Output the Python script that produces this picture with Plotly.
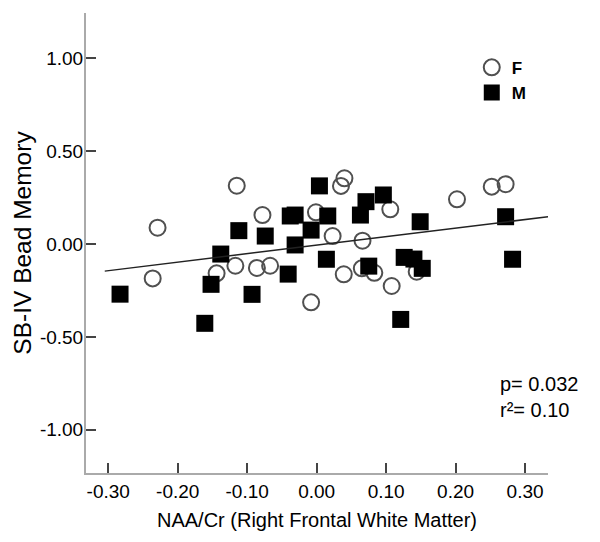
"""
SB-IV Bead Memory vs NAA/Cr (Right Frontal White Matter)
"""
import plotly.graph_objects as go

# Female (open circles)
f_x = [-0.229, -0.236, -0.115, -0.117, -0.144, -0.086, -0.078, -0.067,
       -0.008, -0.001, 0.023, 0.035, 0.040, 0.039, 0.066, 0.065,
       0.083, 0.106, 0.108, 0.144, 0.202, 0.252, 0.272]
f_y = [0.088, -0.185, 0.314, -0.117, -0.158, -0.129, 0.156, -0.117,
       -0.314, 0.171, 0.043, 0.313, 0.354, -0.163, 0.018, -0.131,
       -0.155, 0.187, -0.226, -0.149, 0.241, 0.309, 0.322]

# Male (filled squares)
m_x = [-0.283, -0.161, -0.152, -0.138, -0.112, -0.093, -0.074, -0.041,
       -0.038, -0.031, -0.031, -0.008, 0.004, 0.016, 0.014, 0.063,
       0.071, 0.075, 0.096, 0.121, 0.126, 0.140, 0.149, 0.152,
       0.272, 0.282]
m_y = [-0.270, -0.427, -0.217, -0.054, 0.072, -0.271, 0.043, -0.162,
       0.151, 0.156, -0.005, 0.075, 0.313, 0.151, -0.082, 0.156,
       0.228, -0.119, 0.264, -0.406, -0.072, -0.081, 0.120, -0.131,
       0.147, -0.082]

# fit line
fit_x = [-0.305, 0.333]
fit_y = [-0.146, 0.147]

x_ticks = [-0.30, -0.20, -0.10, 0.00, 0.10, 0.20, 0.30]
x_labels = ["-0.30", "-0.20", "-0.10", "0.00", "0.10", "0.20", "0.30"]
y_ticks = [-1.00, -0.50, 0.00, 0.50, 1.00]
y_labels = ["-1.00", "-0.50", "0.00", "0.50", "1.00"]

FONT = "Liberation Sans, Arial, sans-serif"
INK = "#000000"

fig = go.Figure()

fig.add_trace(go.Scatter(
    x=f_x, y=f_y, mode="markers", name="<b>F</b>",
    marker=dict(symbol="circle-open", size=16, color="#505050",
                line=dict(width=2, color="#505050"))
))

fig.add_trace(go.Scatter(
    x=m_x, y=m_y, mode="markers", name="<b>M</b>",
    marker=dict(symbol="square", size=17, color="black",
                line=dict(width=0))
))

fig.add_trace(go.Scatter(
    x=fit_x, y=fit_y, mode="lines", showlegend=False,
    line=dict(color="#222222", width=1.5)
))

fig.add_annotation(
    x=0.892, y=0.165, xref="paper", yref="paper",
    text="p= 0.032<br>r²= 0.10", showarrow=False,
    xanchor="left", yanchor="middle", align="left",
    font=dict(size=20, color=INK, family=FONT)
)

axis_common = dict(
    showline=True, linecolor="#aaaaaa", linewidth=2,
    ticks="inside", ticklen=10, tickwidth=2, tickcolor="#444444",
    showgrid=False, zeroline=False, automargin=False,
    tickfont=dict(size=19, color=INK, family=FONT),
)

# the page body adds an 8px offset, so margins are pulled in by that
fig.update_layout(
    width=600, height=542,
    margin=dict(l=78, r=60, t=5, b=77),
    plot_bgcolor="white", paper_bgcolor="white",
    showlegend=True,
    legend=dict(
        x=0.835, y=0.92, xanchor="left", yanchor="top",
        font=dict(size=17, color=INK, family=FONT),
        bgcolor="rgba(0,0,0,0)", itemsizing="trace",
    ),
    xaxis=dict(
        range=[-0.332, 0.333], tickvals=x_ticks, ticktext=x_labels,
        title=dict(text="NAA/Cr (Right Frontal White Matter)",
                   font=dict(size=20, color=INK, family=FONT),
                   standoff=12),
        **axis_common
    ),
    yaxis=dict(
        range=[-1.233, 1.244], tickvals=y_ticks, ticktext=y_labels,
        ticklabelstandoff=-3,
        title=dict(text="SB-IV Bead Memory",
                   font=dict(size=24.5, color=INK, family=FONT),
                   standoff=1),
        **axis_common
    ),
)

fig.write_html("out.html")
